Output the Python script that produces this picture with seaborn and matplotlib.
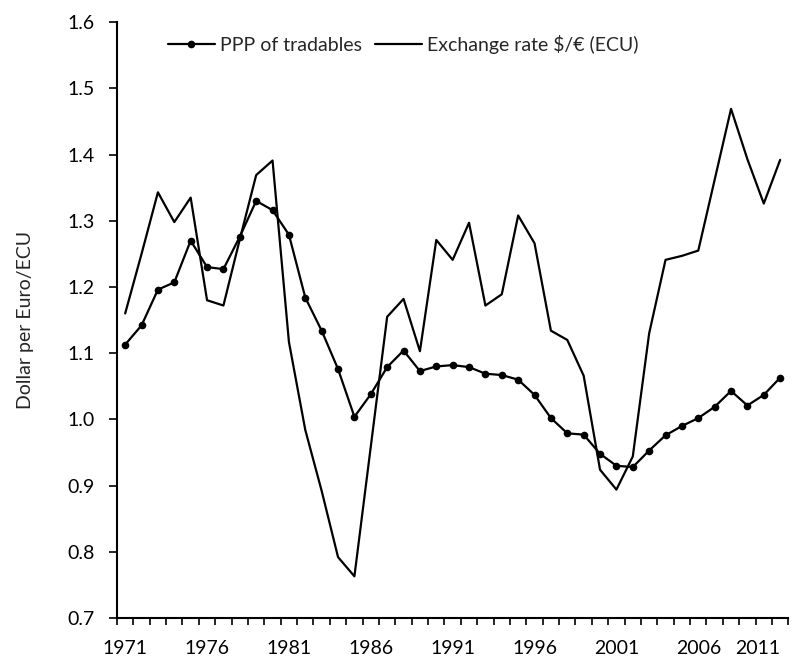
import pandas as pd
import matplotlib.pyplot as plt
import seaborn as sns
from matplotlib.ticker import FixedLocator

# Values
years = list(range(1971, 2012))
ppp_tradables = [1.113, 1.142, 1.196, 1.207, 1.270, 1.230, 1.227, 1.276, 1.330, 1.316,
                 1.279, 1.184, 1.134, 1.076, 1.004, 1.038, 1.079, 1.104, 1.073, 1.080,
                 1.082, 1.079, 1.069, 1.067, 1.060, 1.037, 1.002, 0.979, 0.977, 0.948,
                 0.930, 0.928, 0.953, 0.976, 0.990, 1.002, 1.019, 1.043, 1.021, 1.037, 1.063]
exchange_rate = [1.160, 1.250, 1.343, 1.298, 1.335, 1.180, 1.172, 1.272, 1.369, 1.391,
                 1.117, 0.984, 0.892, 0.792, 0.763, 0.959, 1.155, 1.182, 1.103, 1.271,
                 1.241, 1.297, 1.172, 1.189, 1.308, 1.266, 1.134, 1.120, 1.066, 0.924,
                 0.894, 0.944, 1.130, 1.241, 1.247, 1.255, 1.362, 1.469, 1.393, 1.326, 1.392]
label_years = [1971, 1976, 1981, 1986, 1991, 1996, 2001, 2006, 2011]
y_ticks = [0.7, 0.8, 0.9, 1.0, 1.1, 1.2, 1.3, 1.4, 1.5, 1.6]

data = pd.DataFrame({'Year': years, 'PPP': ppp_tradables, 'ER': exchange_rate})

sns.set_style('white')
plt.rcParams['font.family'] = ['Lato', 'DejaVu Sans']
plt.rcParams['font.size'] = 14

fig = plt.figure(figsize=(7.98, 6.61), dpi=100)
ax = fig.add_axes([0.1466, 0.065, 0.8413, 0.9015])

sns.lineplot(data=data, x='Year', y='PPP', ax=ax, color='black', linewidth=1.6,
             marker='o', markersize=5.5, markeredgewidth=0, label='PPP of tradables')
sns.lineplot(data=data, x='Year', y='ER', ax=ax, color='black', linewidth=1.6,
             label='Exchange rate $/€ (ECU)')

ax.set_xlim(years[0] - 0.5, years[-1] + 0.5)
ax.set_ylim(0.7, 1.6)
ax.set_yticks(y_ticks)
ax.set_yticklabels([f'{v:.1f}' for v in y_ticks])
ax.set_xticks(label_years)
ax.set_xticklabels([str(y) for y in label_years])
ax.xaxis.set_minor_locator(FixedLocator([y - 0.5 for y in years] + [years[-1] + 0.5]))
ax.tick_params(axis='x', which='major', length=0, pad=16, labelsize=14, colors='black')
ax.tick_params(axis='x', which='minor', bottom=True, length=5, width=1.2, color='black')
ax.tick_params(axis='y', left=True, length=6, width=1.2, color='black', labelsize=14,
               labelcolor='black', pad=10)
# keep the last year label inside the figure
ax.get_xticklabels()[-1].set_horizontalalignment('right')
ax.get_xticklabels()[-1].set_x(years[-1] + 0.5)

for side in ['top', 'right']:
    ax.spines[side].set_visible(False)
for side in ['left', 'bottom']:
    ax.spines[side].set_color('black')
    ax.spines[side].set_linewidth(1.5)

ax.set_xlabel('')
ax.set_ylabel('Dollar per Euro/ECU', fontsize=14, labelpad=24)
ax.legend(loc='center left', bbox_to_anchor=(0.05, 0.963), ncol=2, frameon=False,
          handlelength=2.4, handletextpad=0.25, columnspacing=0.7, fontsize=14)

plt.savefig('out.png', dpi=100)
